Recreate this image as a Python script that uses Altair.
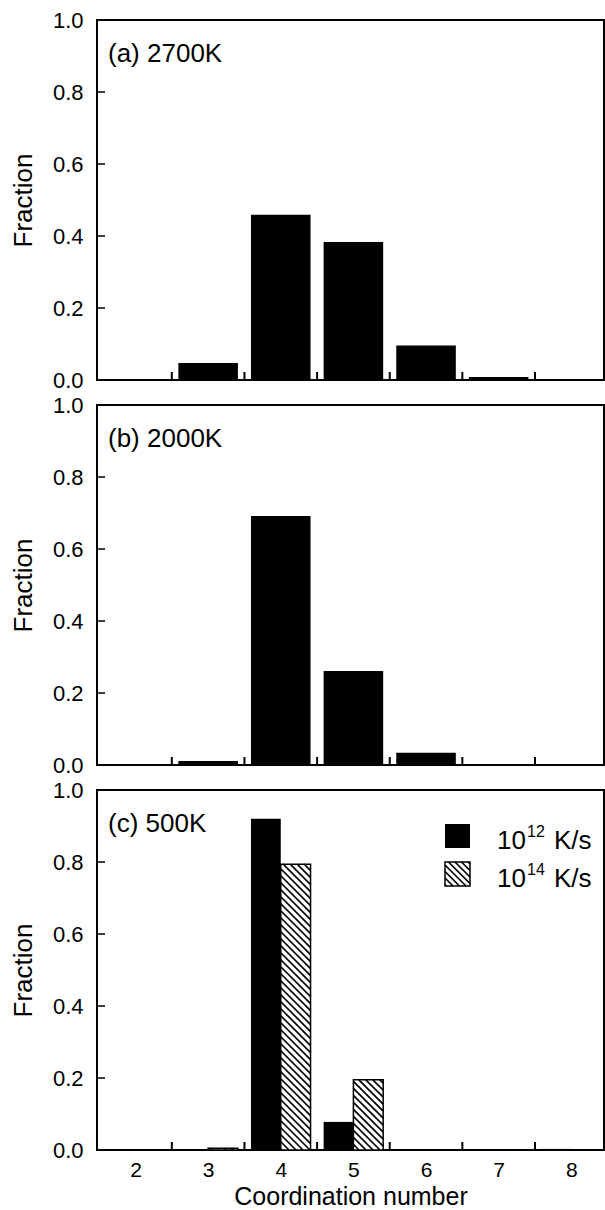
import altair as alt
import pandas as pd
import numpy as np

# ---------------- data ----------------
coord = [2, 3, 4, 5, 6, 7, 8]
frac_2700K = [0.0, 0.047, 0.459, 0.383, 0.096, 0.008, 0.0]
frac_2000K = [0.0, 0.011, 0.692, 0.261, 0.034, 0.0, 0.0]
frac_500K_1e12 = [0.0, 0.0, 0.920, 0.078, 0.0, 0.0, 0.003]
frac_500K_1e14 = [0.0, 0.005, 0.794, 0.195, 0.0, 0.0, 0.0]
panel_labels = ["(a) 2700K", "(b) 2000K", "(c) 500K"]
legend_exponents = ["12", "14"]
y_tick_values = [0.0, 0.2, 0.4, 0.6, 0.8, 1.0]
y_inner_ticks = [0.2, 0.4, 0.6, 0.8]
x_bin_edges = [c + 0.5 for c in coord[:-1]]

# ---------------- layout constants ----------------
FONT = "Liberation Sans"
W, H = 507, 360
XMIN, XMAX = 1.47, 8.45
HALF = 0.41
KX = W / (XMAX - XMIN)
HATCH_STEP = 7.0

xs = alt.Scale(domain=[XMIN, XMAX], nice=False, zero=False)
ys = alt.Scale(domain=[0, 1], nice=False)

yax = alt.Axis(values=y_tick_values, format=".1f", ticks=False, domain=False, grid=False,
               labelFontSize=22, labelPadding=14, title="Fraction", titleFontSize=26,
               titleFontWeight="normal", titlePadding=16)
xax_none = None
xax_bottom = alt.Axis(values=coord, format="d", ticks=False, domain=False, grid=False,
                      labelFontSize=21, labelPadding=9, title="Coordination number",
                      titleFontSize=25, titleFontWeight="normal", titlePadding=4)


def hatch_px(px0, px1, pyt, pyb, step=HATCH_STEP):
    """diagonal '\\' hatch segments inside a pixel rectangle, returned in data units"""
    rows = []
    kmin = int(np.floor((pyt - px1) / step))
    kmax = int(np.ceil((pyb - px0) / step))
    for k in range(kmin, kmax + 1):
        c = k * step
        xa = max(px0, pyt - c)
        xb = min(px1, pyb - c)
        if xb - xa > 0.3:
            rows.append(dict(hx=XMIN + xa / KX, hy=1 - (xa + c) / H,
                             hx2=XMIN + xb / KX, hy2=1 - (xb + c) / H))
    return rows


def common_layers(xax, label):
    yt = alt.Chart(pd.DataFrame({"yt": y_inner_ticks})).mark_rule(
        color="black", strokeWidth=1.5).encode(
        y=alt.Y("yt:Q", scale=ys, axis=yax), x=alt.value(0), x2=alt.value(8))
    xt = alt.Chart(pd.DataFrame({"xt": x_bin_edges})).mark_rule(
        color="black", strokeWidth=2).encode(
        x=alt.X("xt:Q", scale=xs, axis=xax), y=alt.value(H), y2=alt.value(H - 8))
    lab = alt.Chart(pd.DataFrame({"t": [label]})).mark_text(
        font=FONT, fontSize=26, align="left", baseline="alphabetic", color="black").encode(
        text="t:N", x=alt.value(11), y=alt.value(42))
    return [yt, xt, lab]


def single_panel(values, label, xax):
    df = pd.DataFrame({"cn": coord, "v": values})
    df = df[df.v > 0]
    bars = alt.Chart(df).transform_calculate(
        xl=f"datum.cn - {HALF}", xr=f"datum.cn + {HALF}", z="0").mark_rect(
        color="black").encode(
        x=alt.X("xl:Q", scale=xs, axis=xax), x2="xr:Q",
        y=alt.Y("v:Q", scale=ys, axis=yax), y2="z:Q")
    return alt.layer(bars, *common_layers(xax, label)).properties(width=W, height=H)


def pair_panel(v_black, v_hatch, label, xax):
    dfb = pd.DataFrame({"cn": coord, "v": v_black})
    dfb = dfb[dfb.v > 0]
    dfh = pd.DataFrame({"cn": coord, "v": v_hatch})
    dfh = dfh[dfh.v > 0]
    black = alt.Chart(dfb).transform_calculate(
        xl=f"datum.cn - {HALF}", xr="datum.cn", z="0").mark_rect(color="black").encode(
        x=alt.X("xl:Q", scale=xs, axis=xax), x2="xr:Q",
        y=alt.Y("v:Q", scale=ys, axis=yax), y2="z:Q")
    white = alt.Chart(dfh).transform_calculate(
        xl="datum.cn", xr=f"datum.cn + {HALF}", z="0").mark_rect(
        fill="white", stroke="black", strokeWidth=1.5).encode(
        x=alt.X("xl:Q", scale=xs, axis=xax), x2="xr:Q",
        y=alt.Y("v:Q", scale=ys, axis=yax), y2="z:Q")
    rows = []
    for cn, v in zip(dfh.cn, dfh.v):
        rows += hatch_px((cn - XMIN) * KX, (cn + HALF - XMIN) * KX, H * (1 - v), H)
    hatch = alt.Chart(pd.DataFrame(rows)).mark_rule(color="black", strokeWidth=1.7).encode(
        x=alt.X("hx:Q", scale=xs, axis=xax), x2="hx2:Q",
        y=alt.Y("hy:Q", scale=ys, axis=yax), y2="hy2:Q")

    # legend (drawn by hand: two swatches, one hatched)
    LX0, LX1 = 348, 373
    sw_black = alt.Chart(pd.DataFrame({"k": [0]})).mark_rect(color="black").encode(
        x=alt.value(LX0), x2=alt.value(LX1), y=alt.value(34), y2=alt.value(58))
    sw_white = alt.Chart(pd.DataFrame({"k": [0]})).mark_rect(
        fill="white", stroke="black", strokeWidth=1.5).encode(
        x=alt.value(LX0), x2=alt.value(LX1), y=alt.value(72), y2=alt.value(96))
    lrows = hatch_px(LX0, LX1, 72, 96, step=6.5)
    sw_hatch = alt.Chart(pd.DataFrame(lrows)).mark_rule(color="black", strokeWidth=1.7).encode(
        x=alt.X("hx:Q", scale=xs, axis=xax), x2="hx2:Q",
        y=alt.Y("hy:Q", scale=ys, axis=yax), y2="hy2:Q")
    texts = []
    for i, ex in enumerate(legend_exponents):
        base = 59 + 38 * i
        texts.append(alt.Chart(pd.DataFrame({"t": ["10"]})).mark_text(
            font=FONT, fontSize=26, align="left", color="black").encode(
            text="t:N", x=alt.value(400), y=alt.value(base)))
        texts.append(alt.Chart(pd.DataFrame({"t": [ex]})).mark_text(
            font=FONT, fontSize=16, align="left", color="black").encode(
            text="t:N", x=alt.value(430), y=alt.value(base - 12)))
        texts.append(alt.Chart(pd.DataFrame({"t": ["K/s"]})).mark_text(
            font=FONT, fontSize=26, align="left", color="black").encode(
            text="t:N", x=alt.value(457), y=alt.value(base)))
    return alt.layer(black, white, hatch, sw_black, sw_white, sw_hatch, *texts,
                     *common_layers(xax, label)).properties(width=W, height=H)


pa = single_panel(frac_2700K, panel_labels[0], xax_none)
pb = single_panel(frac_2000K, panel_labels[1], xax_none)
pc = pair_panel(frac_500K_1e12, frac_500K_1e14, panel_labels[2], xax_bottom)

chart = alt.vconcat(pa, pb, pc, spacing=25, bounds="flush").properties(
    padding={"left": 9, "top": 8, "right": 0, "bottom": 0}
).configure_view(stroke="black", strokeWidth=2).configure_axis(
    labelFont=FONT, titleFont=FONT, labelColor="black", titleColor="black"
).configure_text(font=FONT, baseline="alphabetic")

chart.save("out.html", embed_options={"renderer": "svg", "actions": False})
